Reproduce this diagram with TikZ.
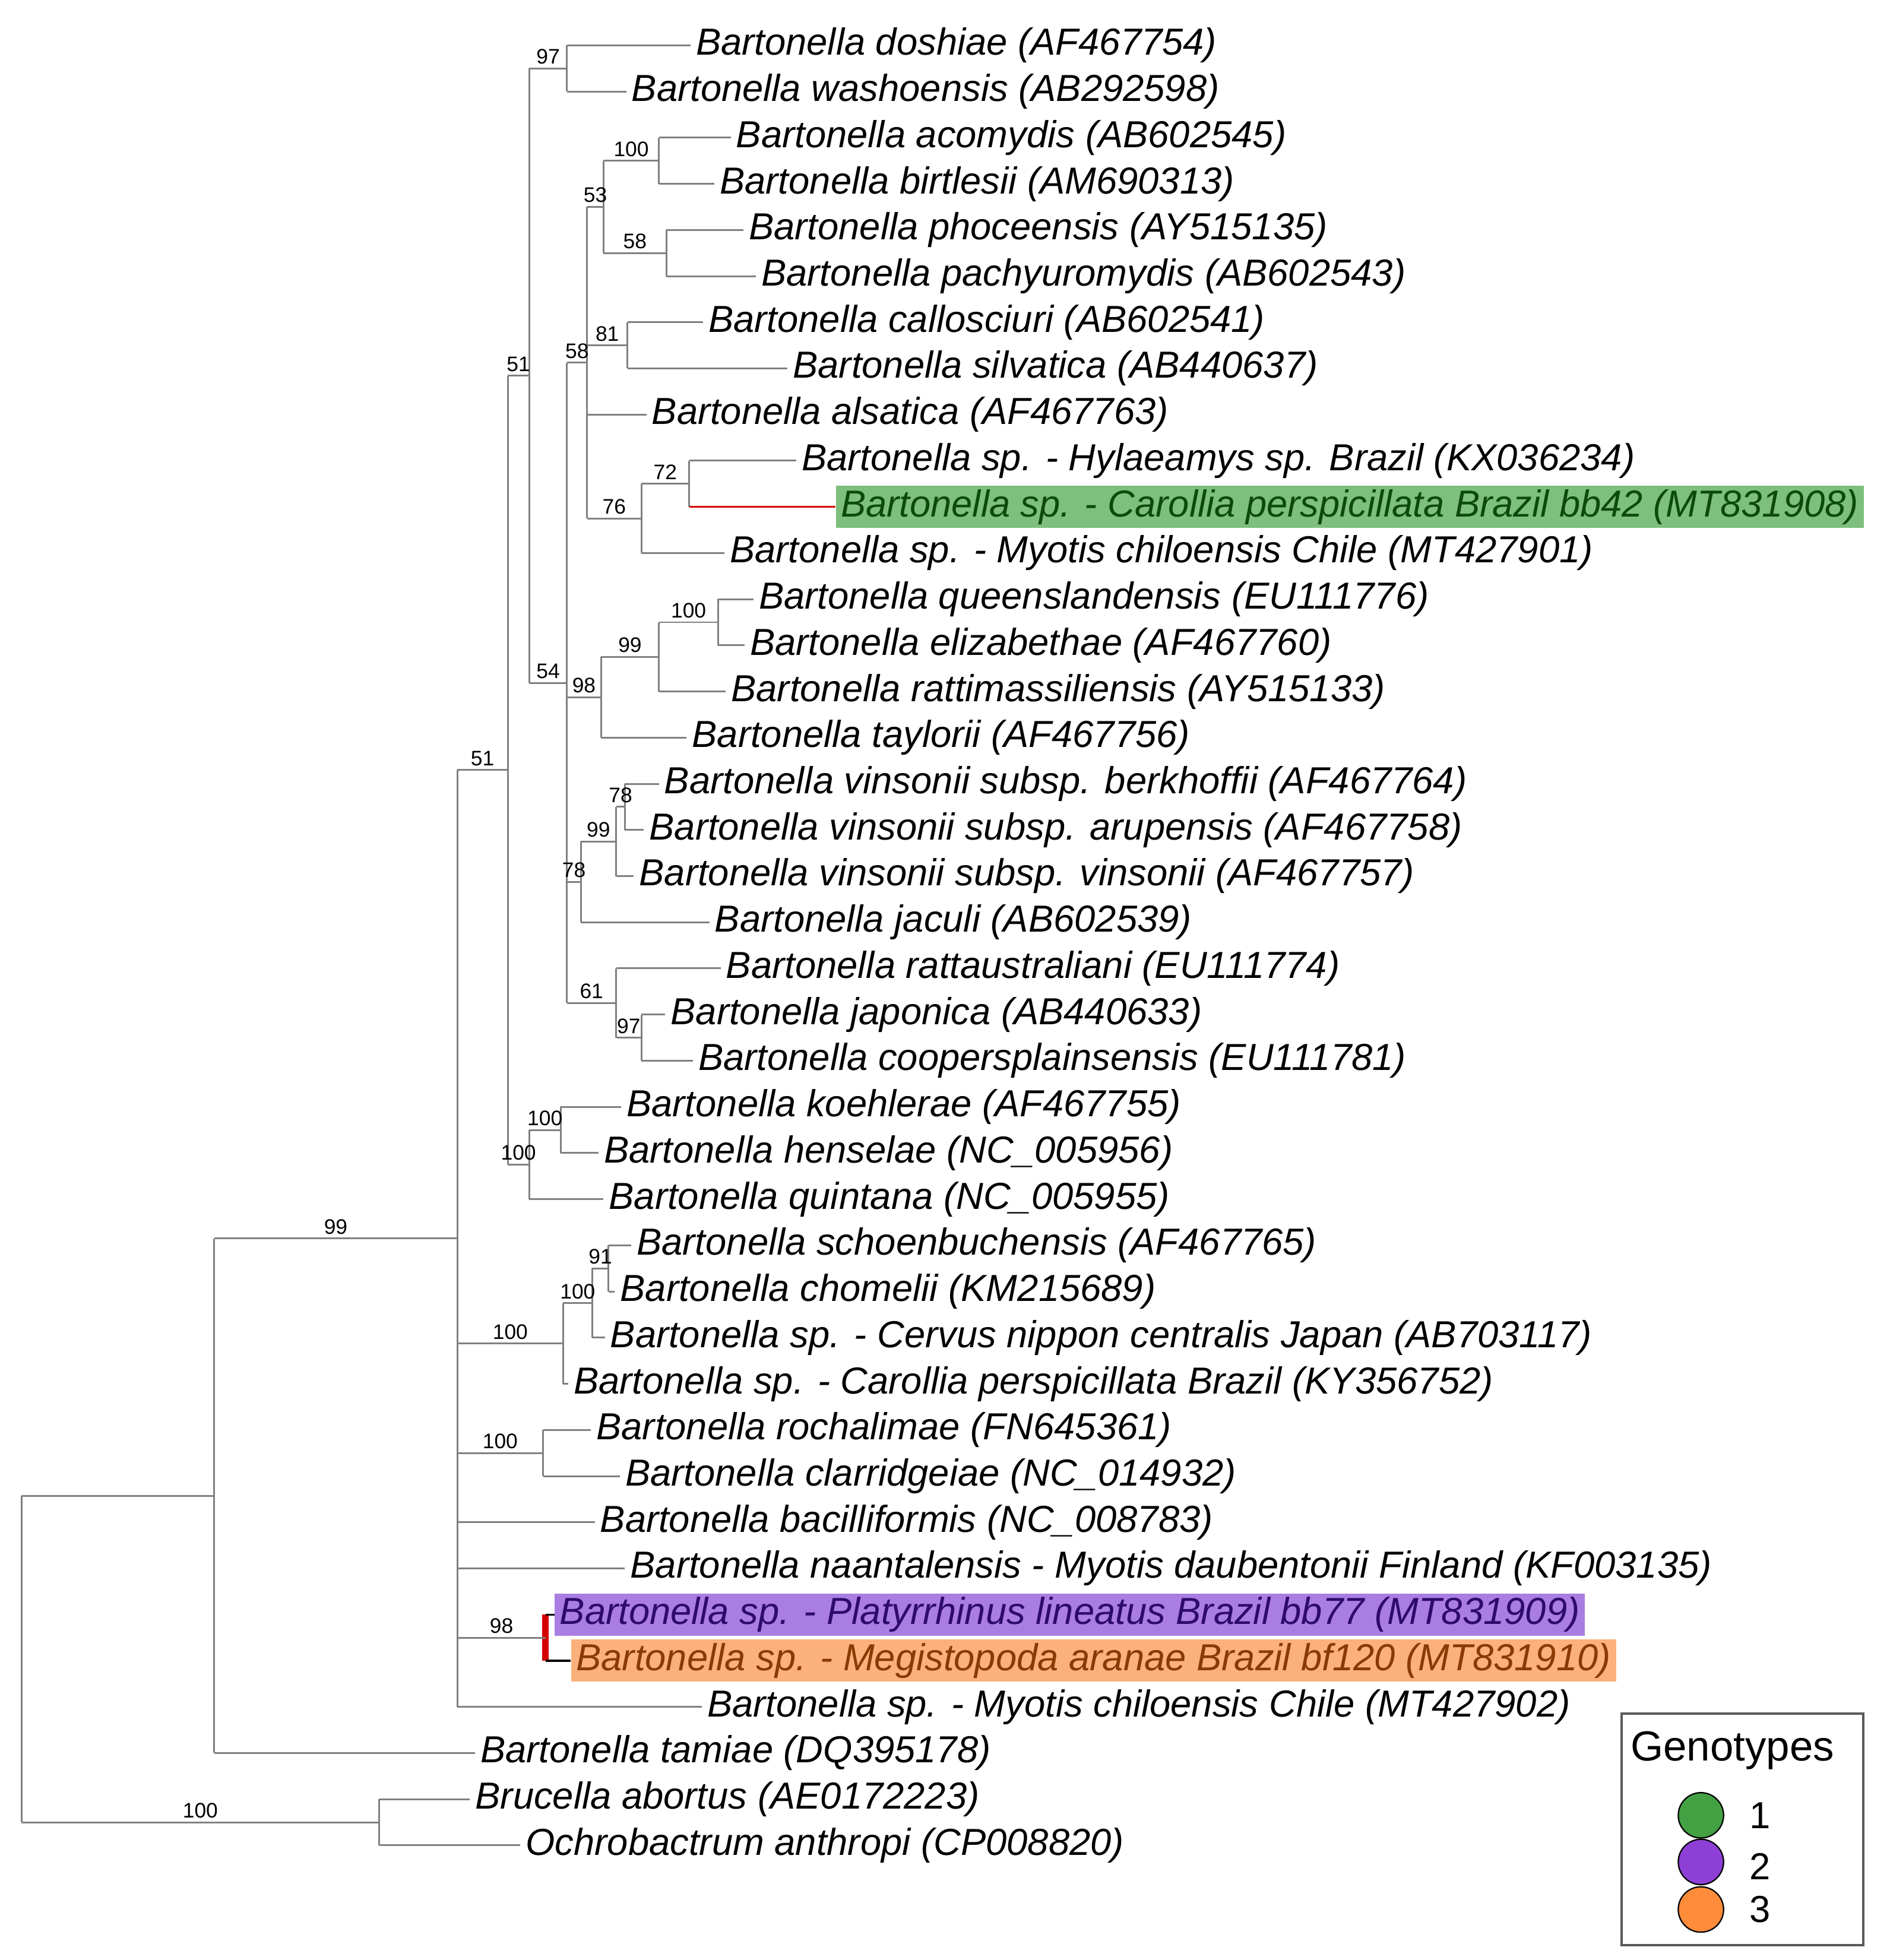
\documentclass[tikz,border=0pt]{standalone}
\usepackage{fontspec}
\setmainfont{Liberation Sans}
\usepackage{xcolor}
\usetikzlibrary{calc}
\definecolor{branchgray}{HTML}{808080}
\definecolor{hlgreen}{HTML}{7DBF7D}
\definecolor{txtgreen}{HTML}{0B4A0B}
\definecolor{hlpurple}{HTML}{A97DE2}
\definecolor{txtpurple}{HTML}{2E0A6A}
\definecolor{hlorange}{HTML}{FCB07C}
\definecolor{txtorange}{HTML}{8A3A00}
\definecolor{gtgreen}{HTML}{43A043}
\definecolor{gtpurple}{HTML}{8E3FD6}
\definecolor{gtorange}{HTML}{FF8C3A}
\definecolor{markred}{HTML}{D40000}
\tikzset{%
  % tips of the tree
         tip/.style = {anchor=west, inner xsep=0.08cm, inner ysep=0.05cm,
                       text height=0.44cm, text depth=0.13cm,
                       font=\fontsize{17}{20}\selectfont\itshape},
     tipgreen/.style = {tip, fill=hlgreen, text=txtgreen},
    tippurple/.style = {tip, fill=hlpurple, text=txtpurple},
    tiporange/.style = {tip, fill=hlorange, text=txtorange},
  % branches and bootstrap values
      branch/.style = {draw=branchgray, line width=0.8pt},
        boot/.style = {above, inner sep=1.5pt, font=\fontsize{9.5}{11}\selectfont},
     genotype/.style = {circle, draw=black, line width=0.6pt, minimum size=0.72cm},
}
\begin{document}
\begin{tikzpicture}[x=0.02cm, y=-0.7328cm]
  \useasboundingbox (0,-0.9825) rectangle (1500,41.485);
  % tips
  \node[tip] (t0)  at (548,0)  {Bartonella doshiae (AF467754)};
  \node[tip] (t1)  at (497,1)  {Bartonella washoensis (AB292598)};
  \node[tip] (t2)  at (580,2)  {Bartonella acomydis (AB602545)};
  \node[tip] (t3)  at (567,3)  {Bartonella birtlesii (AM690313)};
  \node[tip] (t4)  at (590,4)  {Bartonella phoceensis (AY515135)};
  \node[tip] (t5)  at (600,5)  {Bartonella pachyuromydis (AB602543)};
  \node[tip] (t6)  at (558,6)  {Bartonella callosciuri (AB602541)};
  \node[tip] (t7)  at (625,7)  {Bartonella silvatica (AB440637)};
  \node[tip] (t8)  at (513,8)  {Bartonella alsatica (AF467763)};
  \node[tip] (t9)  at (632,9)  {Bartonella sp. - Hylaeamys sp. Brazil (KX036234)};
  \node[tipgreen] (t10) at (663,10) {Bartonella sp. - Carollia perspicillata Brazil bb42 (MT831908)};
  \node[tip] (t11) at (575,11) {Bartonella sp. - Myotis chiloensis Chile (MT427901)};
  \node[tip] (t12) at (598,12) {Bartonella queenslandensis (EU111776)};
  \node[tip] (t13) at (591,13) {Bartonella elizabethae (AF467760)};
  \node[tip] (t14) at (576,14) {Bartonella rattimassiliensis (AY515133)};
  \node[tip] (t15) at (545,15) {Bartonella taylorii (AF467756)};
  \node[tip] (t16) at (523,16) {Bartonella vinsonii subsp. berkhoffii (AF467764)};
  \node[tip] (t17) at (511,17) {Bartonella vinsonii subsp. arupensis (AF467758)};
  \node[tip] (t18) at (503,18) {Bartonella vinsonii subsp. vinsonii (AF467757)};
  \node[tip] (t19) at (563,19) {Bartonella jaculi (AB602539)};
  \node[tip] (t20) at (572,20) {Bartonella rattaustraliani (EU111774)};
  \node[tip] (t21) at (528,21) {Bartonella japonica (AB440633)};
  \node[tip] (t22) at (550,22) {Bartonella coopersplainsensis (EU111781)};
  \node[tip] (t23) at (493,23) {Bartonella koehlerae (AF467755)};
  \node[tip] (t24) at (475,24) {Bartonella henselae (NC\_005956)};
  \node[tip] (t25) at (479,25) {Bartonella quintana (NC\_005955)};
  \node[tip] (t26) at (501,26) {Bartonella schoenbuchensis (AF467765)};
  \node[tip] (t27) at (488,27) {Bartonella chomelii (KM215689)};
  \node[tip] (t28) at (480,28) {Bartonella sp. - Cervus nippon centralis Japan (AB703117)};
  \node[tip] (t29) at (451,29) {Bartonella sp. - Carollia perspicillata Brazil (KY356752)};
  \node[tip] (t30) at (469,30) {Bartonella rochalimae (FN645361)};
  \node[tip] (t31) at (492,31) {Bartonella clarridgeiae (NC\_014932)};
  \node[tip] (t32) at (472,32) {Bartonella bacilliformis (NC\_008783)};
  \node[tip] (t33) at (496,33) {Bartonella naantalensis - Myotis daubentonii Finland (KF003135)};
  \node[tippurple] (t34) at (440,34) {Bartonella sp. - Platyrrhinus lineatus Brazil bb77 (MT831909)};
  \node[tiporange] (t35) at (453,35) {Bartonella sp. - Megistopoda aranae Brazil bf120 (MT831910)};
  \node[tip] (t36) at (557,36) {Bartonella sp. - Myotis chiloensis Chile (MT427902)};
  \node[tip] (t37) at (377,37) {Bartonella tamiae (DQ395178)};
  \node[tip] (t38) at (373,38) {Brucella abortus (AE0172223)};
  \node[tip] (t39) at (413,39) {Ochrobactrum anthropi (CP008820)};
  % internal nodes
  \coordinate (n97a) at (450,0.5);
  \coordinate (n100a) at (523,2.5);
  \coordinate (n58a) at (529,4.5);
  \coordinate (n53) at (479,3.5);
  \coordinate (n81) at (498,6.5);
  \coordinate (n72) at (547,9.5);
  \coordinate (n76) at (509,10.25);
  \coordinate (n58b) at (466,6.875);
  \coordinate (n100b) at (570,12.5);
  \coordinate (n99a) at (523,13.25);
  \coordinate (n98a) at (477,14.125);
  \coordinate (n78a) at (496,16.5);
  \coordinate (n99b) at (489,17.25);
  \coordinate (n78b) at (461,18.125);
  \coordinate (n97b) at (509,21.5);
  \coordinate (n61) at (489,20.75);
  \coordinate (n54) at (450,13.8125);
  \coordinate (n51a) at (420,7.156);
  \coordinate (n100c) at (445,23.5);
  \coordinate (n100d) at (420,24.25);
  \coordinate (n51b) at (403,15.703);
  \coordinate (n91) at (483,26.5);
  \coordinate (n100e) at (470,27.25);
  \coordinate (n100f) at (447,28.125);
  \coordinate (n100g) at (431,30.5);
  \coordinate (n98b) at (433,34.5);
  \coordinate (ncore) at (363,25.85);
  \coordinate (nbart) at (170,31.43);
  \coordinate (n100h) at (301,38.5);
  \coordinate (root) at (17,34.96);
  % verticals
  \draw[branch] (n97a |- t0) -- (n97a |- t1);
  \draw[branch] (n100a |- t2) -- (n100a |- t3);
  \draw[branch] (n58a |- t4) -- (n58a |- t5);
  \draw[branch] (n53 |- n100a) -- (n53 |- n58a);
  \draw[branch] (n81 |- t6) -- (n81 |- t7);
  \draw[branch] (n72 |- t9) -- (n72 |- t10);
  \draw[branch] (n76 |- n72) -- (n76 |- t11);
  \draw[branch] (n58b |- n53) -- (n58b |- n76);
  \draw[branch] (n100b |- t12) -- (n100b |- t13);
  \draw[branch] (n99a |- n100b) -- (n99a |- t14);
  \draw[branch] (n98a |- n99a) -- (n98a |- t15);
  \draw[branch] (n78a |- t16) -- (n78a |- t17);
  \draw[branch] (n99b |- n78a) -- (n99b |- t18);
  \draw[branch] (n78b |- n99b) -- (n78b |- t19);
  \draw[branch] (n97b |- t21) -- (n97b |- t22);
  \draw[branch] (n61 |- t20) -- (n61 |- n97b);
  \draw[branch] (n54 |- n58b) -- (n54 |- n61);
  \draw[branch] (n51a |- n97a) -- (n51a |- n54);
  \draw[branch] (n100c |- t23) -- (n100c |- t24);
  \draw[branch] (n100d |- n100c) -- (n100d |- t25);
  \draw[branch] (n51b |- n51a) -- (n51b |- n100d);
  \draw[branch] (n91 |- t26) -- (n91 |- t27);
  \draw[branch] (n100e |- n91) -- (n100e |- t28);
  \draw[branch] (n100f |- n100e) -- (n100f |- t29);
  \draw[branch] (n100g |- t30) -- (n100g |- t31);
  \draw[markred, line width=3pt] (n98b |- t34) -- (n98b |- t35);
  \draw[branch] (ncore |- n51b) -- (ncore |- t36);
  \draw[branch] (nbart |- ncore) -- (nbart |- t37);
  \draw[branch] (n100h |- t38) -- (n100h |- t39);
  \draw[branch] (root |- nbart) -- (root |- n100h);
  % tip branches
  \foreach \p/\t in {n97a/t0, n97a/t1, n100a/t2, n100a/t3, n58a/t4, n58a/t5,
      n81/t6, n81/t7, n58b/t8, n72/t9, n76/t11, n100b/t12, n100b/t13,
      n99a/t14, n98a/t15, n78a/t16, n78a/t17, n99b/t18, n78b/t19, n61/t20,
      n97b/t21, n97b/t22, n100c/t23, n100c/t24, n100d/t25, n91/t26, n91/t27,
      n100e/t28, n100f/t29, n100g/t30, n100g/t31, ncore/t32, ncore/t33,
      ncore/t36, nbart/t37, n100h/t38, n100h/t39}
    \draw[branch] (\p |- \t) -- (\t.west);
  \draw[markred, line width=0.9pt] (n72 |- t10) -- (t10.west);
  \draw[black, line width=0.9pt] (n98b |- t34) -- (t34.west);
  \draw[black, line width=0.9pt] (n98b |- t35) -- (t35.west);
  % internal branches with bootstrap values
  \draw[branch] (n51a |- n97a) -- (n97a) node[boot, midway] {97};
  \draw[branch] (n53 |- n100a) -- (n100a) node[boot, midway] {100};
  \draw[branch] (n53 |- n58a) -- (n58a) node[boot, midway] {58};
  \draw[branch] (n58b |- n53) -- (n53) node[boot, midway] {53};
  \draw[branch] (n58b |- n81) -- (n81) node[boot, midway] {81};
  \draw[branch] (n76 |- n72) -- (n72) node[boot, midway] {72};
  \draw[branch] (n58b |- n76) -- (n76) node[boot, midway] {76};
  \draw[branch] (n54 |- n58b) -- (n58b) node[boot, midway] {58};
  \draw[branch] (n99a |- n100b) -- (n100b) node[boot, midway] {100};
  \draw[branch] (n98a |- n99a) -- (n99a) node[boot, midway] {99};
  \draw[branch] (n54 |- n98a) -- (n98a) node[boot, midway] {98};
  \draw[branch] (n99b |- n78a) -- (n78a) node[boot, midway] {78};
  \draw[branch] (n78b |- n99b) -- (n99b) node[boot, midway] {99};
  \draw[branch] (n54 |- n78b) -- (n78b) node[boot, midway] {78};
  \draw[branch] (n61 |- n97b) -- (n97b) node[boot, midway] {97};
  \draw[branch] (n54 |- n61) -- (n61) node[boot, midway] {61};
  \draw[branch] (n51a |- n54) -- (n54) node[boot, midway] {54};
  \draw[branch] (n51b |- n51a) -- (n51a) node[boot, midway] {51};
  \draw[branch] (n100d |- n100c) -- (n100c) node[boot, midway] {100};
  \draw[branch] (n51b |- n100d) -- (n100d) node[boot, midway] {100};
  \draw[branch] (ncore |- n51b) -- (n51b) node[boot, midway] {51};
  \draw[branch] (n100e |- n91) -- (n91) node[boot, midway] {91};
  \draw[branch] (n100f |- n100e) -- (n100e) node[boot, midway] {100};
  \draw[branch] (ncore |- n100f) -- (n100f) node[boot, midway] {100};
  \draw[branch] (ncore |- n100g) -- (n100g) node[boot, midway] {100};
  \draw[branch] (ncore |- n98b) -- (n98b) node[boot, midway] {98};
  \draw[branch] (nbart |- ncore) -- (ncore) node[boot, midway] {99};
  \draw[branch] (root |- nbart) -- (nbart);
  \draw[branch] (root |- n100h) -- (n100h) node[boot, midway] {100};
  % legend
  \draw[draw=gray!70!black, line width=1.1pt] (1287,36.14) rectangle (1479,41.16);
  \node[font=\fontsize{19}{22}\selectfont] (gtitle) at (1375,36.95) {Genotypes};
  \node[genotype, fill=gtgreen] (g1) at (1350,38.35) {};
  \node[genotype, fill=gtpurple] (g2) at (1350,39.36) {};
  \node[genotype, fill=gtorange] (g3) at (1350,40.39) {};
  \node[font=\fontsize{17}{20}\selectfont] at (1397,38.35) {1};
  \node[font=\fontsize{17}{20}\selectfont] at (1397,39.46) {2};
  \node[font=\fontsize{17}{20}\selectfont] at (1397,40.39) {3};
\end{tikzpicture}
\end{document}
